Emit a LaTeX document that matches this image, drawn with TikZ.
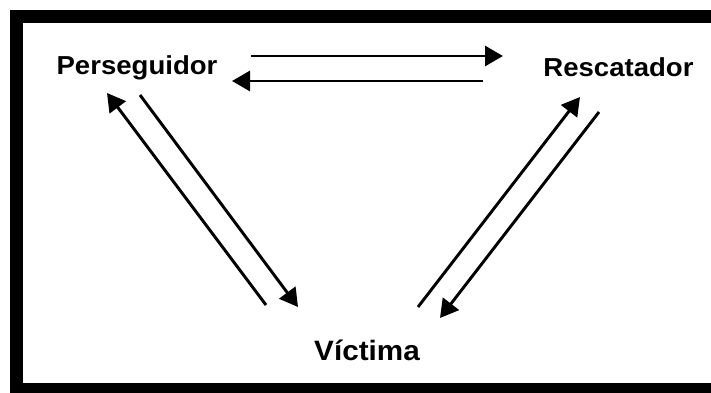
\documentclass[tikz,border=0pt]{standalone}
\usepackage{fontspec}
\usepackage{tikz}
\usetikzlibrary{arrows.meta, positioning}
\newfontfamily\rolefont[FakeStretch=1.06]{Liberation Sans}

\begin{document}
\begin{tikzpicture}[
  x=0.75pt, y=-0.75pt,
  role/.style={anchor=base, inner sep=0pt, font=\rolefont\bfseries\fontsize{19.5}{22}\selectfont},
  arr/.style={-{Triangle[length=13.5pt, width=15pt]}, line width=2.2pt, color=black},
  frame/.style={draw=black, line width=9.75pt}
]
  \clip (0,0) rectangle (711,393);
  \useasboundingbox (0,0) rectangle (711,393);
  \fill[white] (0,0) rectangle (711,393);
  \draw[frame] (16.5,16.5) rectangle (725,389.5);

  \node[role] (pers) at (137,74) {Perseguidor};
  \node[role] (resc) at (618.5,76) {Rescatador};
  \node[role, font=\rolefont\bfseries\fontsize{21}{24}\selectfont] (vict) at (367,360) {Víctima};

  % ends of the arrows
  \coordinate (pr1) at (251,56);  \coordinate (pr2) at (503,56);
  \coordinate (rp1) at (483,81);  \coordinate (rp2) at (232,81);
  \coordinate (vp1) at (266,305); \coordinate (vp2) at (107,93);
  \coordinate (pv1) at (140,95);  \coordinate (pv2) at (298,307);
  \coordinate (vr1) at (418,307); \coordinate (vr2) at (580,97);
  \coordinate (rv1) at (599,112); \coordinate (rv2) at (440,318);

  \draw[arr] (pr1) -- (pr2);
  \draw[arr] (rp1) -- (rp2);
  \draw[arr] (vp1) -- (vp2);
  \draw[arr] (pv1) -- (pv2);
  \draw[arr] (vr1) -- (vr2);
  \draw[arr] (rv1) -- (rv2);
\end{tikzpicture}
\end{document}
